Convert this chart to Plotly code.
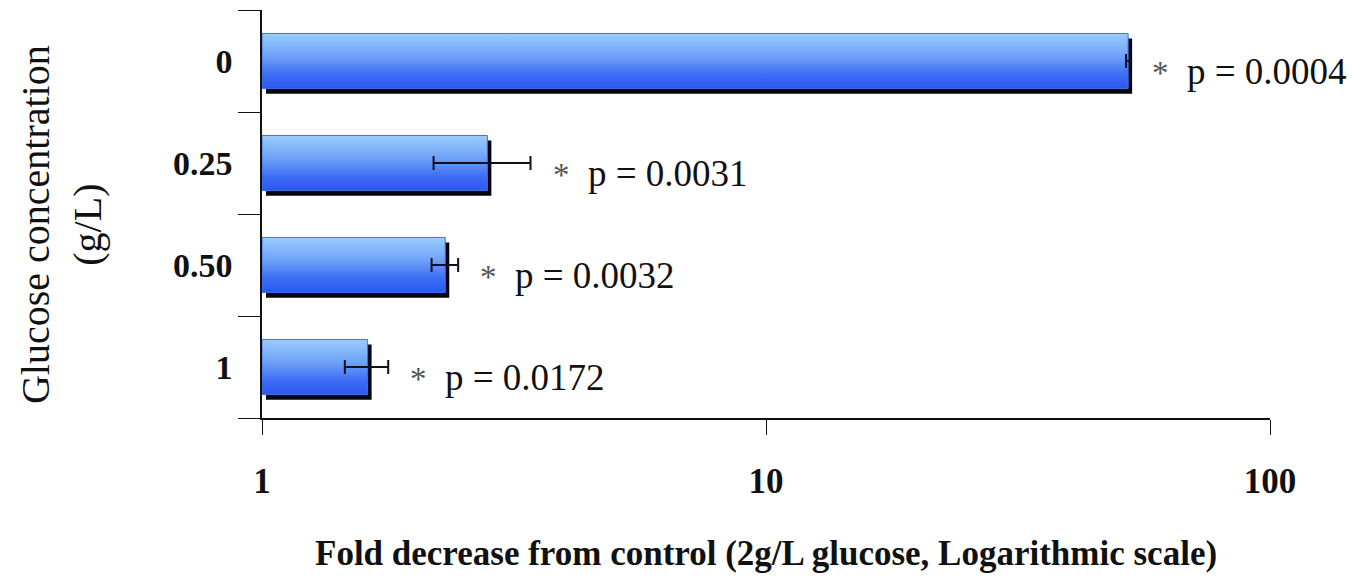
import plotly.graph_objects as go
import math

# ---- data ----
conc_labels = ["0", "0.25", "0.50", "1"]
fold_decrease = [52.3, 2.80, 2.31, 1.62]
fold_error = [0.5, 0.61, 0.14, 0.16]
p_values = ["0.0004", "0.0031", "0.0032", "0.0172"]
x_tick_vals = [1, 10, 100]
x_tick_text = ["1", "10", "100"]

FONT = "Liberation Serif"
n = len(conc_labels)
ypos = [n - 1 - i for i in range(n)]  # top to bottom
half = 0.27
shadow_dx = 10 ** (4 / 504)   # ~4 px on log axis
shadow_dy = 0.05              # ~5 px

fig = go.Figure()

# shadows
for v, y in zip(fold_decrease, ypos):
    x0, x1 = 1 * shadow_dx, v * shadow_dx
    y0, y1 = y - half - shadow_dy, y + half - shadow_dy
    fig.add_trace(go.Scatter(
        x=[x0, x1, x1, x0, x0], y=[y0, y0, y1, y1, y0],
        mode="lines", fill="toself", fillcolor="#050510",
        line=dict(width=0), hoverinfo="skip", showlegend=False))

# gradient bars
for v, y in zip(fold_decrease, ypos):
    y0, y1 = y - half, y + half
    fig.add_trace(go.Scatter(
        x=[1, v, v, 1, 1], y=[y0, y0, y1, y1, y0],
        mode="lines", fill="toself",
        fillgradient=dict(type="vertical",
                          colorscale=[[0, "#2C57F2"], [0.25, "#3D6DF4"],
                                      [0.6, "#6FA4F7"], [1, "#9BCCFF"]],
                          start=y0, stop=y1),
        line=dict(width=1, color="#3C72E8"),
        hoverinfo="skip", showlegend=False))

# error bars
fig.add_trace(go.Scatter(
    x=fold_decrease, y=ypos, mode="markers",
    marker=dict(size=1, color="rgba(0,0,0,0)"),
    error_x=dict(type="data", array=fold_error, symmetric=True,
                 color="#101020", thickness=2, width=7),
    hoverinfo="skip", showlegend=False))

# p-value annotations
for v, e, y, p in zip(fold_decrease, fold_error, ypos, p_values):
    fig.add_annotation(
        x=math.log10(v + e), y=y - 0.1, xref="x", yref="y",
        text="<span style='color:#555;font-size:33px'>*</span>  p = " + p,
        showarrow=False, xanchor="left", yanchor="middle", xshift=20,
        font=dict(family=FONT, size=37, color="#111"))

# axis titles
fig.add_annotation(
    text="Glucose concentration<br>(g/L)", textangle=-90,
    xref="paper", yref="paper", x=0, y=0.473, xanchor="center", yanchor="middle",
    xshift=-201, showarrow=False,
    font=dict(family=FONT, size=40, color="#111"))
fig.add_annotation(
    text="<b>Fold decrease from control (2g/L glucose, Logarithmic scale)</b>",
    xref="paper", yref="paper", x=0.5, y=0, xanchor="center", yanchor="middle",
    yshift=-135, showarrow=False,
    font=dict(family=FONT, size=35, color="#111"))

fig.update_layout(
    width=1364, height=578,
    margin=dict(l=262, r=94, t=10, b=160),
    paper_bgcolor="white", plot_bgcolor="white",
    xaxis=dict(type="log", range=[0, 2], tickvals=x_tick_vals, ticktext=x_tick_text,
               automargin=False,
               showgrid=False, zeroline=False, showline=True, linecolor="#111",
               linewidth=1.5, ticks="outside", ticklen=15, tickcolor="#111",
               ticklabelstandoff=16,
               tickfont=dict(family=FONT, size=35, color="#111", weight="bold")),
    yaxis=dict(range=[-0.5, n - 0.5], tickvals=ypos, ticktext=conc_labels,
               automargin=False,
               showgrid=False, zeroline=False, showline=True, linecolor="#111",
               linewidth=1.5, ticks="", ticklabelstandoff=21,
               minor=dict(tickvals=[k - 0.5 for k in range(n + 1)], ticks="outside",
                          ticklen=22, tickcolor="#111", tickwidth=1.2, showgrid=False),
               tickfont=dict(family=FONT, size=34, color="#111", weight="bold")),
)

# remove the browser's default 8px body margin so the figure fills the window
fig.write_html("out.html",
               config={"displayModeBar": False},
               post_script="document.body.style.margin='0';document.body.style.overflow='hidden';")
